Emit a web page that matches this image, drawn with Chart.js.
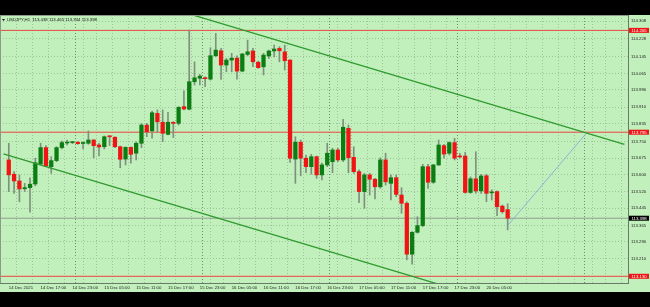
<!DOCTYPE html>
<html>
<head>
<meta charset="utf-8">
<script src="https://cdn.jsdelivr.net/npm/chart.js@4.4.1/dist/chart.umd.min.js"></script>
<style>
  html, body { margin: 0; padding: 0; background: #000; width: 650px; height: 307px; overflow: hidden; }
  #wrap { position: absolute; left: 0; top: 15px; width: 650px; height: 277px; background: #c2f0bc; }
</style>
</head>
<body>
<div id="wrap"><canvas id="myChart" width="650" height="277"></canvas></div>
<script>
// USDJPY H1 candles, 14 Dec 11:00 -> 20 Dec 09:00 (bar index = position)
var opens = [113.667,113.601,113.570,113.534,113.539,113.556,113.648,113.724,113.636,113.664,
  113.724,113.745,113.747,113.749,113.743,113.744,113.759,113.736,113.728,113.776,
  113.772,113.728,113.671,113.725,113.698,113.744,113.828,113.801,113.882,113.841,
  113.785,113.841,113.836,113.913,113.901,114.028,114.044,114.045,114.040,114.148,
  114.171,114.105,114.128,114.137,114.077,114.154,114.170,114.118,114.097,114.147,
  114.170,114.182,114.166,114.128,113.671,113.749,113.675,113.636,113.682,113.598,
  113.644,113.659,113.713,113.667,113.813,113.679,113.613,113.521,113.598,113.578,
  113.543,113.667,113.559,113.585,113.505,113.467,113.232,113.333,113.364,113.636,
  113.564,113.644,113.733,113.698,113.747,113.684,113.685,113.517,113.580,113.524,
  113.594,113.515,113.521,113.454,113.438];
var highs = [113.744,113.613,113.598,113.559,113.585,113.675,113.744,113.733,113.682,113.728,
  113.754,113.759,113.751,113.751,113.751,113.801,113.761,113.744,113.778,113.778,
  113.774,113.731,113.728,113.728,113.751,113.836,113.836,113.893,113.898,113.898,
  113.887,113.843,113.913,113.986,114.267,114.120,114.062,114.051,114.185,114.251,
  114.182,114.136,114.159,114.148,114.159,114.220,114.182,114.123,114.159,114.174,
  114.197,114.190,114.197,114.130,113.774,113.759,113.690,113.693,113.685,113.652,
  113.744,113.721,113.721,113.855,113.828,113.728,113.621,113.605,113.605,113.582,
  113.677,113.698,113.598,113.598,113.539,113.474,113.336,113.405,113.647,113.647,
  113.647,113.759,113.739,113.751,113.767,113.698,113.702,113.589,113.705,113.601,
  113.601,113.529,113.525,113.459,113.465];
var lows = [113.521,113.513,113.474,113.521,113.426,113.547,113.644,113.636,113.605,113.659,
  113.718,113.736,113.742,113.739,113.718,113.739,113.677,113.685,113.718,113.733,
  113.724,113.631,113.644,113.652,113.667,113.724,113.774,113.767,113.795,113.751,
  113.782,113.770,113.828,113.898,113.898,114.013,114.013,114.005,114.036,114.143,
  114.039,114.074,114.074,114.040,114.074,114.148,114.097,114.090,114.059,114.136,
  114.143,114.120,114.082,113.656,113.559,113.594,113.608,113.601,113.582,113.575,
  113.636,113.608,113.659,113.659,113.608,113.605,113.470,113.444,113.505,113.487,
  113.536,113.551,113.482,113.497,113.421,113.206,113.186,113.329,113.359,113.536,
  113.559,113.641,113.675,113.690,113.667,113.675,113.513,113.513,113.513,113.513,
  113.474,113.482,113.410,113.421,113.344];
var closes = [113.598,113.570,113.533,113.539,113.555,113.654,113.724,113.639,113.664,113.724,
  113.747,113.748,113.749,113.742,113.745,113.759,113.733,113.727,113.774,113.774,
  113.728,113.670,113.725,113.693,113.744,113.828,113.797,113.885,113.843,113.790,
  113.841,113.836,113.910,113.902,114.028,114.046,114.054,114.042,114.148,114.174,
  114.105,114.128,114.137,114.077,114.156,114.166,114.120,114.093,114.151,114.170,
  114.179,114.171,114.125,113.675,113.749,113.675,113.636,113.682,113.598,113.644,
  113.698,113.713,113.667,113.818,113.677,113.613,113.521,113.598,113.578,113.543,
  113.667,113.566,113.585,113.508,113.467,113.232,113.333,113.364,113.636,113.564,
  113.644,113.736,113.694,113.747,113.675,113.681,113.517,113.580,113.524,113.593,
  113.513,113.517,113.451,113.428,113.398];

// time axis labels, one every 6 bars starting at bar 0
var timeLabels = ["14 Dec 2021", "14 Dec 17:00", "14 Dec 23:00", "15 Dec 05:00", "15 Dec 11:00",
  "15 Dec 17:00", "15 Dec 23:00", "16 Dec 05:00", "16 Dec 11:00", "16 Dec 17:00",
  "16 Dec 23:00", "17 Dec 05:00", "17 Dec 11:00", "17 Dec 17:00", "17 Dec 23:00", "20 Dec 05:00"];
var daySeparators = [13, 37, 61, 85, 109];
var priceTicks = [114.308, 114.228, 114.145, 114.065, 113.990, 113.910, 113.835, 113.750,
  113.675, 113.600, 113.520, 113.445, 113.365, 113.290, 113.210];

// drawn objects
var redLevels = [114.265, 113.795, 113.130];
var upperChannel = [{x: 34, y: 114.341}, {x: 116, y: 113.739}];
var lowerChannel = [{x: -1, y: 113.695}, {x: 82, y: 113.086}];
var projection = [{x: 94, y: 113.364}, {x: 109, y: 113.795}];
var header = "USDJPY,H1  113.438 113.465 113.344 113.398";

var upColor = "#0b7d12";
var downColor = "#f01414";
var wickColor = "#7f907f";
var gridColor = "#9ec59a";
var sepColor = "#6d8c6d";
var tinyFont = {family: "'Liberation Sans', Arial, sans-serif", size: 4.3};

var candleColors = opens.map(function (o, i) { return closes[i] >= o ? upColor : downColor; });
var lastClose = closes[closes.length - 1];

var xTicks = [];
for (var t = 0; t <= 114; t += 3) xTicks.push(t);
daySeparators.forEach(function (d) { xTicks.push(d); });
xTicks.sort(function (a, b) { return a - b; });

var datasets = [];
redLevels.forEach(function (lv) {
  datasets.push({type: "line", data: [{x: -2, y: lv}, {x: 117, y: lv}], borderColor: "#e8473f",
    borderWidth: 1, pointRadius: 0, order: 6});
});
datasets.push({type: "line", data: [{x: -2, y: lastClose}, {x: 117, y: lastClose}],
  borderColor: "#8f9f8f", borderWidth: 1, pointRadius: 0, order: 6});
datasets.push({type: "bar", data: lows.map(function (l, i) { return {x: i, y: [l, highs[i]]}; }),
  backgroundColor: wickColor, barThickness: 1, grouped: false, order: 4});
datasets.push({type: "bar", data: opens.map(function (o, i) { return {x: i, y: [o, closes[i]]}; }),
  backgroundColor: candleColors, barThickness: 3.6, minBarLength: 1, grouped: false, order: 3});
datasets.push({type: "line", data: upperChannel, borderColor: "#2f9a2f", borderWidth: 1.3, pointRadius: 0, order: 1});
datasets.push({type: "line", data: lowerChannel, borderColor: "#2f9a2f", borderWidth: 1.3, pointRadius: 0, order: 1});
datasets.push({type: "line", data: projection, borderColor: "#7fa4d8", borderWidth: 0.8, pointRadius: 0, order: 1});

function noPad(s) {
  s.paddingLeft = 0; s.paddingRight = 0; s.paddingTop = 0; s.paddingBottom = 0;
}

// header text, price boxes and chart frame
var overlay = {
  id: "overlay",
  afterDraw: function (chart) {
    var ctx = chart.ctx, area = chart.chartArea, y = chart.scales.y;
    ctx.save();
    ctx.strokeStyle = "#8a9a8a";
    ctx.lineWidth = 1;
    ctx.beginPath();
    ctx.moveTo(area.left + 0.5, area.bottom);
    ctx.lineTo(area.left + 0.5, area.top + 0.5);
    ctx.lineTo(area.right, area.top + 0.5);
    ctx.stroke();

    ctx.fillStyle = "#111";
    ctx.beginPath();
    ctx.moveTo(2, 4); ctx.lineTo(5, 4); ctx.lineTo(3.5, 6); ctx.closePath();
    ctx.fill();
    ctx.font = "4.3px 'Liberation Sans', Arial, sans-serif";
    ctx.textBaseline = "middle";
    ctx.textAlign = "left";
    ctx.fillText(header, 7, 5.2);

    function box(v, bg) {
      var py = y.getPixelForValue(v);
      ctx.fillStyle = bg;
      ctx.fillRect(area.right + 1, py - 2.5, 20, 5);
      ctx.fillStyle = "#fff";
      ctx.fillText(v.toFixed(3), area.right + 3.5, py + 0.2);
    }
    redLevels.forEach(function (lv) { box(lv, "#f01414"); });
    box(lastClose, "#000");
    ctx.restore();
  }
};

new Chart("myChart", {
  type: "bar",
  data: {datasets: datasets},
  options: {
    responsive: false,
    animation: false,
    devicePixelRatio: 1,
    layout: {padding: 0},
    plugins: {legend: {display: false}, tooltip: {enabled: false}, title: {display: false}},
    scales: {
      x: {
        type: "linear", position: "bottom", min: -0.31, max: 115.33,
        afterFit: function (s) { s.height = 9; noPad(s); },
        afterBuildTicks: function (s) { s.ticks = xTicks.map(function (v) { return {value: v}; }); },
        ticks: {
          autoSkip: false, maxRotation: 0, align: "start", padding: 2, color: "#222", font: tinyFont,
          callback: function (v) { return (v % 6 === 0 && v / 6 < timeLabels.length) ? timeLabels[v / 6] : ""; }
        },
        grid: {
          drawTicks: false, lineWidth: 1,
          color: function (c) { return (c.tick && daySeparators.indexOf(c.tick.value) >= 0) ? sepColor : gridColor; }
        },
        border: {color: "#6a7a6a", width: 1, dash: [1, 2]}
      },
      y: {
        type: "linear", position: "right", min: 113.099, max: 114.336,
        afterFit: function (s) { s.width = 22; noPad(s); },
        afterBuildTicks: function (s) { s.ticks = priceTicks.map(function (v) { return {value: v}; }); },
        ticks: {padding: 3, color: "#222", font: tinyFont, callback: function (v) { return v.toFixed(3); }},
        grid: {drawTicks: false, color: gridColor, lineWidth: 1},
        border: {color: "#6a7a6a", width: 1, dash: [1, 2]}
      }
    }
  },
  plugins: [overlay]
});
</script>
</body>
</html>
